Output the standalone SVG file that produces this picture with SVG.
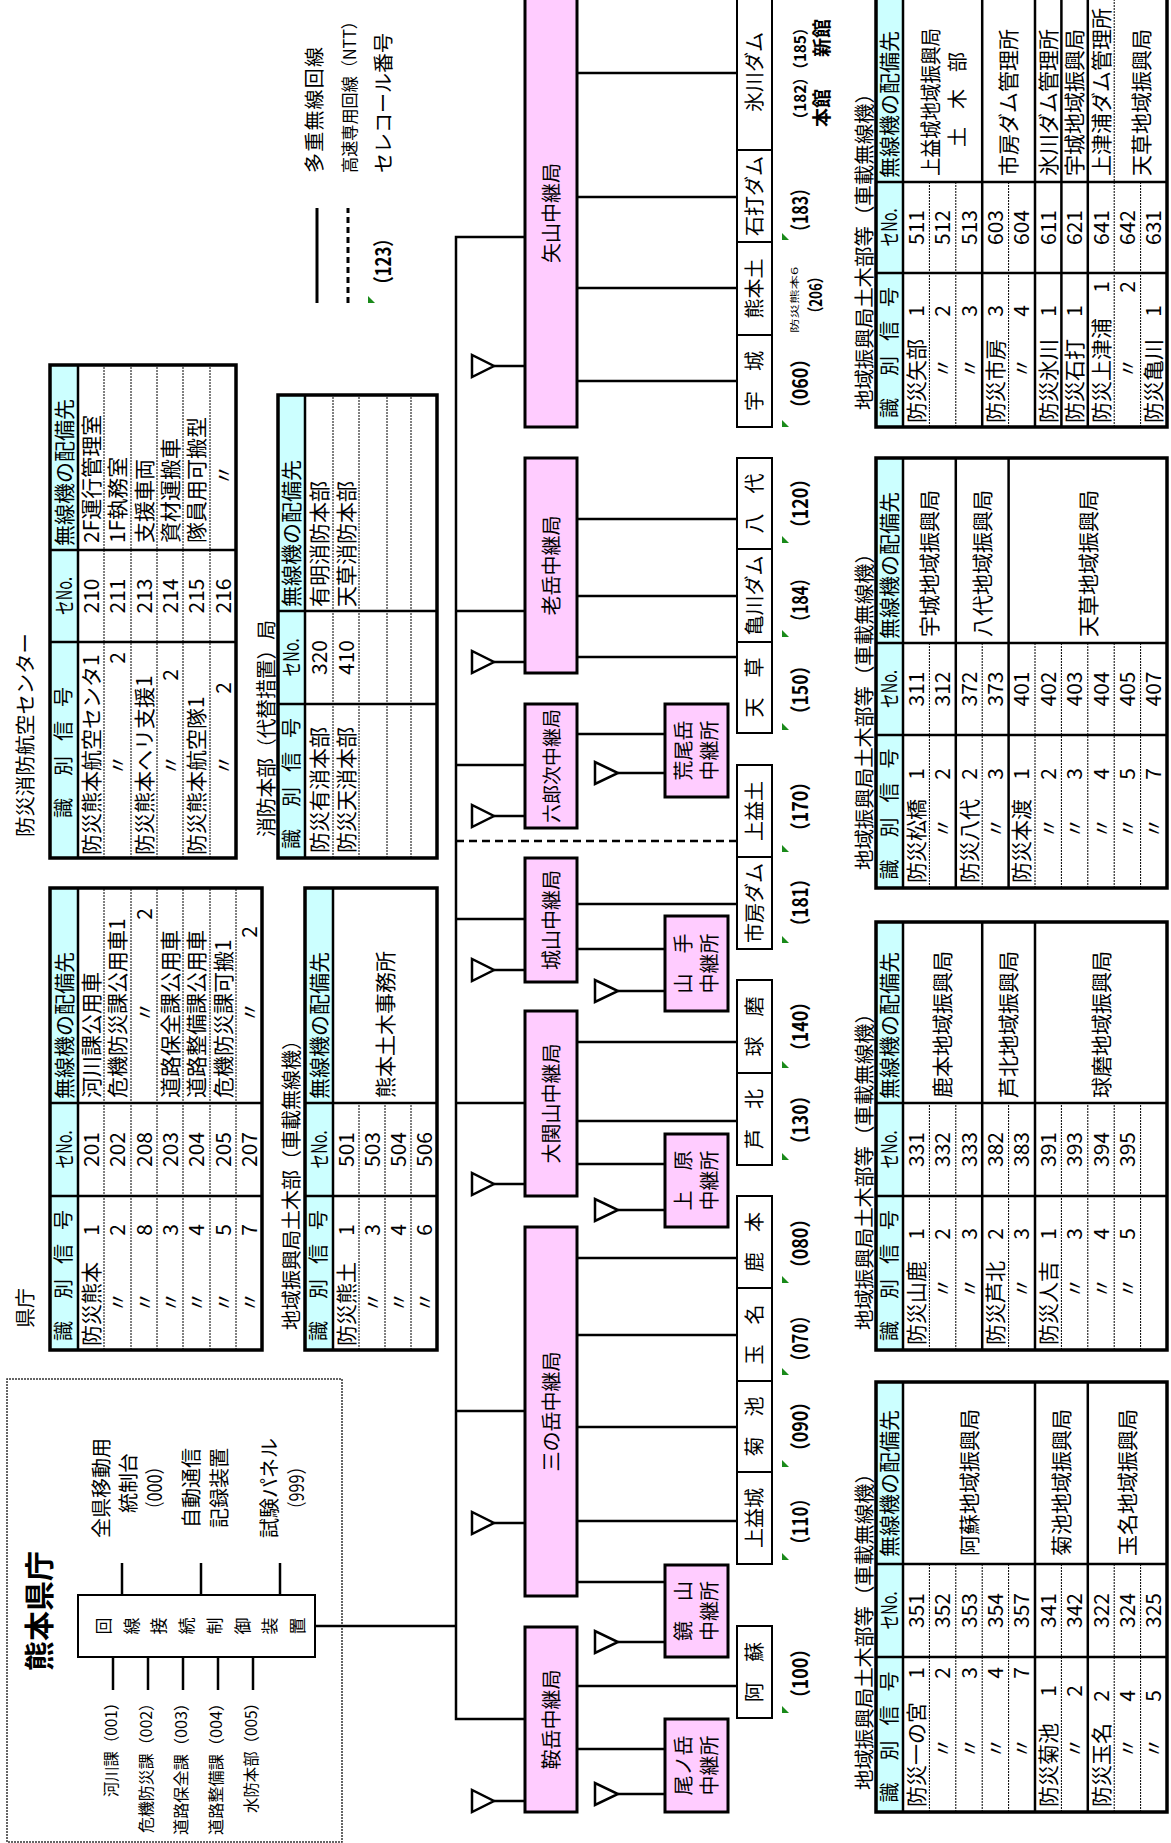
<svg xmlns="http://www.w3.org/2000/svg" width="1171" height="1843" viewBox="0 0 1171 1843">
<style>
.j{font-family:"Noto Sans CJK JP","Noto Sans",sans-serif;fill:#000}
.f21{font-size:21px}.f20{font-size:20px}.f19{font-size:19px}.f18{font-size:18px}.f17{font-size:17px}.f16{font-size:16px}.f15{font-size:15px}.f9{font-size:9px}
.b{font-weight:bold}
.mid{text-anchor:middle}.end{text-anchor:end}
.ln{stroke:#000;stroke-width:2.5;fill:none}
.dsh{stroke:#000;stroke-width:2.5;fill:none;stroke-dasharray:8 5}
.bx{fill:#FFCCFF;stroke:#000;stroke-width:3}
.lb{fill:#fff;stroke:#000;stroke-width:2}
.ant{fill:#fff;stroke:#000;stroke-width:2.5;stroke-linejoin:miter}
.tb{fill:none;stroke:#000;stroke-width:3.5}
.sl{stroke:#000;stroke-width:2.5;fill:none}
.dl{stroke:#000;stroke-width:1;stroke-dasharray:2 1;fill:none}
.hd{fill:#CCFFFF}
.mk{fill:#1a8a1a}
.nm{font-family:"Noto Sans CJK JP","Noto Sans",sans-serif;font-size:21px;font-weight:bold;fill:#000}
</style>
<rect width="1171" height="1843" fill="#fff"/>
<g transform="matrix(0,-1,1,0,0,1843)">

<!-- Head office -->
<g id="kumamoto-pref">
<rect x="1" y="7" width="463" height="335" fill="none" stroke="#333" stroke-width="1.5" stroke-dasharray="2 1"/>
<text class="j b mid" x="232" y="50" style="font-size:30px">熊本県庁</text>
</g>
<g id="n-control">
<rect x="186" y="78" width="62" height="237" fill="#fff" stroke="#000" stroke-width="2"/>
<text class="j f17 mid" x="217 217 217 217 217 217 217 217" y="110 138 165 193 221 249 276 304">回線接続制御装置</text>
</g>
<g id="n-zenken">
<text class="j f20 mid" x="355" y="109">全県移動用</text>
<text class="j f20 mid" x="360" y="136">統制台</text>
<text class="j f20 mid" x="355" y="162" textLength="59" lengthAdjust="spacingAndGlyphs">（000）</text>
</g>
<g id="n-jido">
<text class="j f20 mid" x="355" y="199">自動通信</text>
<text class="j f20 mid" x="355" y="227">記録装置</text>
</g>
<g id="n-shiken">
<text class="j f20 mid" x="355" y="277">試験パネル</text>
<text class="j f20 mid" x="355" y="304" textLength="59" lengthAdjust="spacingAndGlyphs">（999）</text>
</g>
<g id="n-depts">
<text class="j f16 end" x="148" y="117" textLength="102" lengthAdjust="spacingAndGlyphs">河川課（001）</text>
<text class="j f16 end" x="148" y="152" textLength="138" lengthAdjust="spacingAndGlyphs">危機防災課（002）</text>
<text class="j f16 end" x="148" y="187" textLength="140" lengthAdjust="spacingAndGlyphs">道路保全課（003）</text>
<text class="j f16 end" x="148" y="222" textLength="140" lengthAdjust="spacingAndGlyphs">道路整備課（004）</text>
<text class="j f16 end" x="148" y="257" textLength="118" lengthAdjust="spacingAndGlyphs">水防本部（005）</text>
</g>

<!-- Legend -->
<g id="legend">
<path class="ln" d="M1540 317H1635" style="stroke-width:3"/>
<path d="M1540 348H1635" stroke="#000" stroke-width="3" stroke-dasharray="6 4"/>
<polygon class="mk" points="1540,368 1547,368 1540,375"/>
<text class="nm" x="1550" y="390.5" textLength="63" lengthAdjust="spacingAndGlyphs">（123）</text>
<text class="j f20" x="1670" y="322" textLength="126" lengthAdjust="spacing">多重無線回線</text>
<text class="j f17" x="1670" y="356" textLength="160" lengthAdjust="spacingAndGlyphs">高速専用回線（NTT）</text>
<text class="j f20" x="1670" y="391" textLength="140" lengthAdjust="spacingAndGlyphs">セレコール番号</text>
</g>

<!-- Connectors -->
<g id="connectors">
<path class="ln" d="M248 122H280M248 201H280M248 280H280M153 113H186M153 148H186M153 183H186M153 218H186M153 253H186"/>
<path class="ln" d="M217 315V456M124 525V456H1606V525M432 456V525M740 456V525M924 456V525M1078 456V525M1232 456V525"/>
<path class="dsh" d="M1002 456V737"/>
<path class="ln" d="M1477 494V525M1181 494V525M1027 494V525M873 494V525M659 494V525M320 494V525M42 494V525"/>
<path class="ln" d="M1070 618V665M852 618V665M633 618V665M201 618V665M49 618V665"/>
<path class="ln" d="M1770 578V737M1646 578V737M1555 578V737M1462 578V737M1324 578V737M1247 578V737M1186 578V737M939 578V737M801 578V737M722 578V737M585 578V737M508 578V737M416 578V737M322 578V737M157 578V737"/>
<path class="ln" d="M1109 578V665M894 578V665M679 578V665M261 578V665M94 578V665"/>
<g id="antennas">
<polygon class="ant" points="1466,472 1488,472 1477,494"/>
<polygon class="ant" points="1170,472 1192,472 1181,494"/>
<polygon class="ant" points="1016,472 1038,472 1027,494"/>
<polygon class="ant" points="862,472 884,472 873,494"/>
<polygon class="ant" points="648,472 670,472 659,494"/>
<polygon class="ant" points="309,472 331,472 320,494"/>
<polygon class="ant" points="31,472 53,472 42,494"/>
<polygon class="ant" points="1059,595 1081,595 1070,618"/>
<polygon class="ant" points="841,595 863,595 852,618"/>
<polygon class="ant" points="622,595 644,595 633,618"/>
<polygon class="ant" points="190,595 212,595 201,618"/>
<polygon class="ant" points="38,595 60,595 49,618"/>
</g>
</g>

<!-- Relay stations -->
<g id="n-yayama"><rect class="bx" x="1416" y="525" width="432" height="52"/><text class="j f20 mid" x="1630" y="558.7">矢山中継局</text></g>
<g id="n-oidake"><rect class="bx" x="1170" y="525" width="215" height="52"/><text class="j f20 mid" x="1277.5" y="558.7">老岳中継局</text></g>
<g id="n-rokurouji"><rect class="bx" x="1015" y="525" width="124" height="52"/><text class="j f19 mid" x="1077" y="558.5">六郎次中継局</text></g>
<g id="n-shiroyama"><rect class="bx" x="861" y="525" width="124" height="52"/><text class="j f20 mid" x="923" y="558.7">城山中継局</text></g>
<g id="n-ozekiyama"><rect class="bx" x="647" y="525" width="185" height="52"/><text class="j f20 mid" x="739.5" y="558.7">大関山中継局</text></g>
<g id="n-sannotake"><rect class="bx" x="247" y="525" width="369" height="52"/><text class="j f20 mid" x="431.5" y="558.7">三の岳中継局</text></g>
<g id="n-kuradake"><rect class="bx" x="31" y="525" width="185" height="52"/><text class="j f20 mid" x="123.5" y="558.7">鞍岳中継局</text></g>

<g id="n-araodake"><rect class="bx" x="1046" y="665" width="93" height="63"/><text class="j f20 mid" x="1092.5" y="691">荒尾岳</text><text class="j f20 mid" x="1092.5" y="717">中継所</text></g>
<g id="n-yamate"><rect class="bx" x="832" y="665" width="95" height="63"/><text class="j f20 mid" x="879.5" y="691">山　手</text><text class="j f20 mid" x="879.5" y="717">中継所</text></g>
<g id="n-uehara"><rect class="bx" x="616" y="665" width="93" height="63"/><text class="j f20 mid" x="662.5" y="691">上　原</text><text class="j f20 mid" x="662.5" y="717">中継所</text></g>
<g id="n-kagamiyama"><rect class="bx" x="186" y="665" width="92" height="63"/><text class="j f20 mid" x="232" y="691">鏡　山</text><text class="j f20 mid" x="232" y="717">中継所</text></g>
<g id="n-onotake"><rect class="bx" x="31" y="665" width="93" height="63"/><text class="j f20 mid" x="77.5" y="691">尾ノ岳</text><text class="j f20 mid" x="77.5" y="717">中継所</text></g>

<!-- Terminal stations -->
<g id="n-hikawadam"><rect class="lb" x="1693" y="737" width="155" height="35"/><text class="j f20 mid" x="1771" y="762">氷川ダム</text></g>
<g id="n-ishiuchidam"><rect class="lb" x="1601" y="737" width="92" height="35"/><text class="j f20 mid" x="1647" y="762">石打ダム</text></g>
<g id="n-kumamotodo"><rect class="lb" x="1508" y="737" width="93" height="35"/><text class="j f20 mid" x="1554.5" y="762">熊本土</text></g>
<g id="n-uki"><rect class="lb" x="1416" y="737" width="92" height="35"/><text class="j f20 mid" x="1462" y="762">宇　城</text></g>
<g id="n-yatsushiro"><rect class="lb" x="1294" y="737" width="91" height="35"/><text class="j f20 mid" x="1339.5" y="762">八　代</text></g>
<g id="n-kamegawadam"><rect class="lb" x="1201" y="737" width="93" height="35"/><text class="j f20 mid" x="1247.5" y="762">亀川ダム</text></g>
<g id="n-amakusa"><rect class="lb" x="1110" y="737" width="91" height="35"/><text class="j f20 mid" x="1155.5" y="762">天　草</text></g>
<g id="n-kamimashido"><rect class="lb" x="986" y="737" width="92" height="35"/><text class="j f20 mid" x="1032" y="762">上益土</text></g>
<g id="n-ichifusadam"><rect class="lb" x="894" y="737" width="92" height="35"/><text class="j f20 mid" x="940" y="762">市房ダム</text></g>
<g id="n-kuma"><rect class="lb" x="770" y="737" width="93" height="35"/><text class="j f20 mid" x="816.5" y="762">球　磨</text></g>
<g id="n-ashikita"><rect class="lb" x="678" y="737" width="92" height="35"/><text class="j f20 mid" x="724" y="762">芦　北</text></g>
<g id="n-kamoto"><rect class="lb" x="555" y="737" width="92" height="35"/><text class="j f20 mid" x="601" y="762">鹿　本</text></g>
<g id="n-tamana"><rect class="lb" x="462" y="737" width="93" height="35"/><text class="j f20 mid" x="508.5" y="762">玉　名</text></g>
<g id="n-kikuchi"><rect class="lb" x="371" y="737" width="91" height="35"/><text class="j f20 mid" x="416.5" y="762">菊　池</text></g>
<g id="n-kamimashiki"><rect class="lb" x="279" y="737" width="92" height="35"/><text class="j f20 mid" x="325" y="762">上益城</text></g>
<g id="n-aso"><rect class="lb" x="125" y="737" width="92" height="35"/><text class="j f20 mid" x="171" y="762">阿　蘇</text></g>

<!-- Selcall numbers -->
<g id="selcall">
<polygon class="mk" points="1416,782 1423,782 1416,789"/>
<polygon class="mk" points="1603,782 1610,782 1603,789"/>
<polygon class="mk" points="1300,782 1307,782 1300,789"/>
<polygon class="mk" points="1206,782 1213,782 1206,789"/>
<polygon class="mk" points="1113,782 1120,782 1113,789"/>
<polygon class="mk" points="991,782 998,782 991,789"/>
<polygon class="mk" points="900,782 907,782 900,789"/>
<polygon class="mk" points="775,782 782,782 775,789"/>
<polygon class="mk" points="683,782 690,782 683,789"/>
<polygon class="mk" points="560,782 567,782 560,789"/>
<polygon class="mk" points="468,782 475,782 468,789"/>
<polygon class="mk" points="376,782 383,782 376,789"/>
<polygon class="mk" points="283,782 290,782 283,789"/>
<polygon class="mk" points="130,782 137,782 130,789"/>
<text class="nm" x="1426" y="807.8" textLength="67" lengthAdjust="spacingAndGlyphs">（060）</text>
<text class="j f9" x="1510" y="798" textLength="66" lengthAdjust="spacingAndGlyphs">防災熊本6</text>
<text class="nm" x="1523" y="822" textLength="50" lengthAdjust="spacingAndGlyphs" style="font-size:17px">（206）</text>
<text class="nm" x="1603" y="807.8" textLength="60" lengthAdjust="spacingAndGlyphs">（183）</text>
<text class="nm" x="1716" y="805.5" textLength="107" lengthAdjust="spacingAndGlyphs" style="font-size:16px">（182）（185）</text>
<text class="j f19 b" x="1716" y="829">本館</text>
<text class="j f19 b" x="1786" y="829">新館</text>
<text class="nm" x="1306" y="807.8" textLength="67" lengthAdjust="spacingAndGlyphs">（120）</text>
<text class="nm" x="1213" y="807.8" textLength="60" lengthAdjust="spacingAndGlyphs">（184）</text>
<text class="nm" x="1120" y="807.8" textLength="66" lengthAdjust="spacingAndGlyphs">（150）</text>
<text class="nm" x="1003" y="807.8" textLength="67" lengthAdjust="spacingAndGlyphs">（170）</text>
<text class="nm" x="908" y="807.8" textLength="65" lengthAdjust="spacingAndGlyphs">（181）</text>
<text class="nm" x="783" y="807.8" textLength="67" lengthAdjust="spacingAndGlyphs">（140）</text>
<text class="nm" x="690" y="807.8" textLength="66" lengthAdjust="spacingAndGlyphs">（130）</text>
<text class="nm" x="566" y="807.8" textLength="67" lengthAdjust="spacingAndGlyphs">（080）</text>
<text class="nm" x="473" y="807.8" textLength="63" lengthAdjust="spacingAndGlyphs">（070）</text>
<text class="nm" x="383" y="807.8" textLength="67" lengthAdjust="spacingAndGlyphs">（090）</text>
<text class="nm" x="290" y="807.8" textLength="63" lengthAdjust="spacingAndGlyphs">（110）</text>
<text class="nm" x="136" y="807.8" textLength="67" lengthAdjust="spacingAndGlyphs">（100）</text>
</g>

<!-- Table: 県庁 -->
<g id="tbl-kencho">
<text class="j f20" x="515" y="33">県庁</text>
<rect class="hd" x="493" y="50" width="462" height="28"/>
<path class="dl" d="M493 104H955M493 131H955M493 157H955M493 183H955M493 210H955M493 236H955"/>
<path class="sl" d="M493 78H955M647 50V262M740 50V262"/>
<rect class="tb" x="493" y="50" width="462" height="212"/>
<g class="j f21">
<text class="f20" x="502 544 579 613" y="71">識別信号</text>
<text class="mid" x="693.5" y="71.5" textLength="38" lengthAdjust="spacingAndGlyphs">セNo.</text>
<text x="744" y="71.5">無線機の配備先</text>
<text x="497" y="98.5">防災熊本</text><text class="end" x="619" y="98.5">1</text><text class="mid" x="693.5" y="98.5">201</text><text x="745" y="98.5">河川課公用車</text>
<text class="mid" x="541" y="125">〃</text><text class="end" x="619" y="125">2</text><text class="mid" x="693.5" y="125">202</text><text x="745" y="125">危機防災課公用車1</text>
<text class="mid" x="541" y="151.5">〃</text><text class="end" x="619" y="151.5">8</text><text class="mid" x="693.5" y="151.5">208</text><text class="mid" x="831" y="151.5">〃</text><text class="end" x="935" y="151.5">2</text>
<text class="mid" x="541" y="177.5">〃</text><text class="end" x="619" y="177.5">3</text><text class="mid" x="693.5" y="177.5">203</text><text x="745" y="177.5">道路保全課公用車</text>
<text class="mid" x="541" y="204">〃</text><text class="end" x="619" y="204">4</text><text class="mid" x="693.5" y="204">204</text><text x="745" y="204">道路整備課公用車</text>
<text class="mid" x="541" y="230.5">〃</text><text class="end" x="619" y="230.5">5</text><text class="mid" x="693.5" y="230.5">205</text><text x="745" y="230.5">危機防災課可搬1</text>
<text class="mid" x="541" y="256.5">〃</text><text class="end" x="619" y="256.5">7</text><text class="mid" x="693.5" y="256.5">207</text><text class="mid" x="831" y="256.5">〃</text><text class="end" x="917" y="256.5">2</text>
</g>
</g>

<!-- Table: 熊本土木 -->
<g id="tbl-kumado">
<text class="j f20" x="513" y="299">地域振興局土木部（車載無線機）</text>
<rect class="hd" x="493" y="305" width="462" height="28"/>
<path class="dl" d="M493 359H740M493 385H740M493 411H740"/>
<path class="sl" d="M493 333H955M647 305V437M740 305V437"/>
<rect class="tb" x="493" y="305" width="462" height="132"/>
<g class="j f21">
<text class="f20" x="502 544 579 613" y="326">識別信号</text>
<text class="mid" x="693.5" y="326.5" textLength="38" lengthAdjust="spacingAndGlyphs">セNo.</text>
<text x="744" y="326.5">無線機の配備先</text>
<text x="497" y="353.5">防災熊土</text><text class="end" x="619" y="353.5">1</text><text class="mid" x="693.5" y="353.5">501</text>
<text class="mid" x="541" y="379.5">〃</text><text class="end" x="619" y="379.5">3</text><text class="mid" x="693.5" y="379.5">503</text>
<text class="mid" x="541" y="405.5">〃</text><text class="end" x="619" y="405.5">4</text><text class="mid" x="693.5" y="405.5">504</text>
<text class="mid" x="541" y="431.5">〃</text><text class="end" x="619" y="431.5">6</text><text class="mid" x="693.5" y="431.5">506</text>
<text x="745" y="392.5">熊本土木事務所</text>
</g>
</g>

<!-- Table: 防災消防航空センター -->
<g id="tbl-koku">
<text class="j f20" x="1006" y="33" textLength="204" lengthAdjust="spacingAndGlyphs">防災消防航空センター</text>
<rect class="hd" x="985" y="50" width="493" height="28"/>
<path class="dl" d="M985 104H1478M985 131H1478M985 157H1478M985 183H1478M985 210H1478"/>
<path class="sl" d="M985 78H1478M1201 50V236M1293 50V236"/>
<rect class="tb" x="985" y="50" width="493" height="186"/>
<g class="j f21">
<text class="f20" x="1025 1067 1102 1136" y="71">識別信号</text>
<text class="mid" x="1247" y="71.5" textLength="38" lengthAdjust="spacingAndGlyphs">セNo.</text>
<text x="1297" y="71.5">無線機の配備先</text>
<text x="988" y="98.5">防災熊本航空センタ1</text><text class="mid" x="1247" y="98.5">210</text><text x="1300" y="98.5">2F運行管理室</text>
<text class="mid" x="1078" y="125">〃</text><text class="end" x="1191" y="125">2</text><text class="mid" x="1247" y="125">211</text><text x="1300" y="125">1F執務室</text>
<text x="988" y="151.5">防災熊本ヘリ支援1</text><text class="mid" x="1247" y="151.5">213</text><text x="1300" y="151.5">支援車両</text>
<text class="mid" x="1078" y="177.5">〃</text><text class="end" x="1174" y="177.5">2</text><text class="mid" x="1247" y="177.5">214</text><text x="1300" y="177.5">資材運搬車</text>
<text x="988" y="204">防災熊本航空隊1</text><text class="mid" x="1247" y="204">215</text><text x="1300" y="204">隊員用可搬型</text>
<text class="mid" x="1078" y="230.5">〃</text><text class="end" x="1161" y="230.5">2</text><text class="mid" x="1247" y="230.5">216</text><text class="mid" x="1368" y="230.5">〃</text>
</g>
</g>

<!-- Table: 消防本部 -->
<g id="tbl-shobo">
<text class="j f20" x="1006" y="274" textLength="217" lengthAdjust="spacingAndGlyphs">消防本部（代替措置）局</text>
<rect class="hd" x="985" y="278" width="463" height="27"/>
<path class="dl" d="M985 333H1448M985 359H1448M985 387H1448M985 411H1448"/>
<path class="sl" d="M985 305H1448M1139 278V437M1232 278V437"/>
<rect class="tb" x="985" y="278" width="463" height="159"/>
<g class="j f21">
<text class="f20" x="994 1036 1071 1105" y="298.5">識別信号</text>
<text class="mid" x="1185.5" y="299" textLength="38" lengthAdjust="spacingAndGlyphs">セNo.</text>
<text x="1236" y="299">無線機の配備先</text>
<text x="990" y="326.5">防災有消本部</text><text class="mid" x="1185.5" y="326.5">320</text><text x="1236" y="326.5">有明消防本部</text>
<text x="990" y="353.5">防災天消本部</text><text class="mid" x="1185.5" y="353.5">410</text><text x="1236" y="353.5">天草消防本部</text>
</g>
</g>

<!-- Table A -->
<g id="tbl-aso">
<text class="j f20" x="53" y="872" textLength="327" lengthAdjust="spacingAndGlyphs">地域振興局土木部等（車載無線機）</text>
<rect class="hd" x="31" y="876" width="430" height="27"/>
<path class="dl" d="M31 929.4H279M31 955.8H279M31 982.2H279M31 1008.6H279M31 1061.4H279M31 1114.2H279M31 1140.6H279"/>
<path class="sl" d="M31 903H461M186 876V1167M279 876V1167M31 1035H461M31 1087.8H461"/>
<rect class="tb" x="31" y="876" width="430" height="291"/>
<g class="j f21">
<text class="f20" x="40.5 82.5 117.5 151.5" y="896.5">識別信号</text>
<text class="mid" x="232.5" y="897" textLength="38" lengthAdjust="spacingAndGlyphs">セNo.</text>
<text x="286" y="897">無線機の配備先</text>
<text x="36" y="923.7">防災一の宮</text><text class="end" x="176" y="923.7">1</text><text class="mid" x="232.5" y="923.7">351</text>
<text class="mid" x="95" y="950.1">〃</text><text class="end" x="176" y="950.1">2</text><text class="mid" x="232.5" y="950.1">352</text>
<text class="mid" x="95" y="976.5">〃</text><text class="end" x="176" y="976.5">3</text><text class="mid" x="232.5" y="976.5">353</text>
<text class="mid" x="95" y="1002.9">〃</text><text class="end" x="176" y="1002.9">4</text><text class="mid" x="232.5" y="1002.9">354</text>
<text class="mid" x="95" y="1029.3">〃</text><text class="end" x="176" y="1029.3">7</text><text class="mid" x="232.5" y="1029.3">357</text>
<text x="36" y="1055.7">防災菊池</text><text class="end" x="158" y="1055.7">1</text><text class="mid" x="232.5" y="1055.7">341</text>
<text class="mid" x="95" y="1082.1">〃</text><text class="end" x="158" y="1082.1">2</text><text class="mid" x="232.5" y="1082.1">342</text>
<text x="36" y="1108.5">防災玉名</text><text class="end" x="153" y="1108.5">2</text><text class="mid" x="232.5" y="1108.5">322</text>
<text class="mid" x="95" y="1134.9">〃</text><text class="end" x="153" y="1134.9">4</text><text class="mid" x="232.5" y="1134.9">324</text>
<text class="mid" x="95" y="1161.3">〃</text><text class="end" x="153" y="1161.3">5</text><text class="mid" x="232.5" y="1161.3">325</text>
<text x="287" y="976.5">阿蘇地域振興局</text>
<text x="287" y="1068.9">菊池地域振興局</text>
<text x="287" y="1134.9">玉名地域振興局</text>
</g>
</g>

<!-- Table B -->
<g id="tbl-kamoto">
<text class="j f20" x="513" y="872" textLength="327" lengthAdjust="spacingAndGlyphs">地域振興局土木部等（車載無線機）</text>
<rect class="hd" x="493" y="876" width="428" height="27"/>
<path class="dl" d="M493 929.4H740M493 955.8H740M493 1008.6H740M493 1061.4H740M493 1087.8H740M493 1114.2H740M493 1140.6H740"/>
<path class="sl" d="M493 903H921M647 876V1167M740 876V1167M493 982.2H921M493 1035H921"/>
<rect class="tb" x="493" y="876" width="428" height="291"/>
<g class="j f21">
<text class="f20" x="502 544 579 613" y="896.5">識別信号</text>
<text class="mid" x="693.5" y="897" textLength="38" lengthAdjust="spacingAndGlyphs">セNo.</text>
<text x="744" y="897">無線機の配備先</text>
<text x="498" y="923.7">防災山鹿</text><text class="end" x="615" y="923.7">1</text><text class="mid" x="693.5" y="923.7">331</text>
<text class="mid" x="555" y="950.1">〃</text><text class="end" x="615" y="950.1">2</text><text class="mid" x="693.5" y="950.1">332</text>
<text class="mid" x="555" y="976.5">〃</text><text class="end" x="615" y="976.5">3</text><text class="mid" x="693.5" y="976.5">333</text>
<text x="498" y="1002.9">防災芦北</text><text class="end" x="615" y="1002.9">2</text><text class="mid" x="693.5" y="1002.9">382</text>
<text class="mid" x="555" y="1029.3">〃</text><text class="end" x="615" y="1029.3">3</text><text class="mid" x="693.5" y="1029.3">383</text>
<text x="498" y="1055.7">防災人吉</text><text class="end" x="615" y="1055.7">1</text><text class="mid" x="693.5" y="1055.7">391</text>
<text class="mid" x="555" y="1082.1">〃</text><text class="end" x="615" y="1082.1">3</text><text class="mid" x="693.5" y="1082.1">393</text>
<text class="mid" x="555" y="1108.5">〃</text><text class="end" x="615" y="1108.5">4</text><text class="mid" x="693.5" y="1108.5">394</text>
<text class="mid" x="555" y="1134.9">〃</text><text class="end" x="615" y="1134.9">5</text><text class="mid" x="693.5" y="1134.9">395</text>
<text x="745" y="950.1">鹿本地域振興局</text>
<text x="745" y="1016.1">芦北地域振興局</text>
<text x="745" y="1108.5">球磨地域振興局</text>
</g>
</g>

<!-- Table C -->
<g id="tbl-uki">
<text class="j f20" x="973" y="872" textLength="327" lengthAdjust="spacingAndGlyphs">地域振興局土木部等（車載無線機）</text>
<rect class="hd" x="955" y="876" width="430" height="27"/>
<path class="dl" d="M955 929.4H1200M955 982.2H1200M955 1035H1200M955 1061.4H1200M955 1087.8H1200M955 1114.2H1200M955 1140.6H1200"/>
<path class="sl" d="M955 903H1385M1108 876V1167M1200 876V1167M955 955.8H1385M955 1008.6H1385"/>
<rect class="tb" x="955" y="876" width="430" height="291"/>
<g class="j f21">
<text class="f20" x="963.5 1005.5 1040.5 1074.5" y="896.5">識別信号</text>
<text class="mid" x="1154" y="897" textLength="38" lengthAdjust="spacingAndGlyphs">セNo.</text>
<text x="1204" y="897">無線機の配備先</text>
<text x="960" y="923.7">防災松橋</text><text class="end" x="1075" y="923.7">1</text><text class="mid" x="1154" y="923.7">311</text>
<text class="mid" x="1015" y="950.1">〃</text><text class="end" x="1075" y="950.1">2</text><text class="mid" x="1154" y="950.1">312</text>
<text x="960" y="976.5">防災八代</text><text class="end" x="1075" y="976.5">2</text><text class="mid" x="1154" y="976.5">372</text>
<text class="mid" x="1015" y="1002.9">〃</text><text class="end" x="1075" y="1002.9">3</text><text class="mid" x="1154" y="1002.9">373</text>
<text x="960" y="1029.3">防災本渡</text><text class="end" x="1075" y="1029.3">1</text><text class="mid" x="1154" y="1029.3">401</text>
<text class="mid" x="1015" y="1055.7">〃</text><text class="end" x="1075" y="1055.7">2</text><text class="mid" x="1154" y="1055.7">402</text>
<text class="mid" x="1015" y="1082.1">〃</text><text class="end" x="1075" y="1082.1">3</text><text class="mid" x="1154" y="1082.1">403</text>
<text class="mid" x="1015" y="1108.5">〃</text><text class="end" x="1075" y="1108.5">4</text><text class="mid" x="1154" y="1108.5">404</text>
<text class="mid" x="1015" y="1134.9">〃</text><text class="end" x="1075" y="1134.9">5</text><text class="mid" x="1154" y="1134.9">405</text>
<text class="mid" x="1015" y="1161.3">〃</text><text class="end" x="1075" y="1161.3">7</text><text class="mid" x="1154" y="1161.3">407</text>
<text x="1206" y="936.9">宇城地域振興局</text>
<text x="1206" y="989.7">八代地域振興局</text>
<text x="1206" y="1095.5">天草地域振興局</text>
</g>
</g>

<!-- Table D -->
<g id="tbl-yabe">
<text class="j f20" x="1433" y="872" textLength="327" lengthAdjust="spacingAndGlyphs">地域振興局土木部等（車載無線機）</text>
<rect class="hd" x="1416" y="876" width="432" height="27"/>
<path class="dl" d="M1416 929.4H1661M1416 955.8H1661M1416 1008.6H1661M1416 1140.6H1661M1416 1114.2H1848"/>
<path class="sl" d="M1416 903H1848M1570 876V1167M1661 876V1167M1416 982.2H1848M1416 1035H1848M1416 1061.4H1848M1416 1087.8H1848"/>
<rect class="tb" x="1416" y="876" width="435" height="291"/>
<g class="j f21">
<text class="f20" x="1425 1467 1502 1536" y="896.5">識別信号</text>
<text class="mid" x="1615.5" y="897" textLength="38" lengthAdjust="spacingAndGlyphs">セNo.</text>
<text x="1665" y="897">無線機の配備先</text>
<text x="1420" y="923.7">防災矢部</text><text class="end" x="1538" y="923.7">1</text><text class="mid" x="1615.5" y="923.7">511</text>
<text class="mid" x="1475" y="950.1">〃</text><text class="end" x="1538" y="950.1">2</text><text class="mid" x="1615.5" y="950.1">512</text>
<text class="mid" x="1475" y="976.5">〃</text><text class="end" x="1538" y="976.5">3</text><text class="mid" x="1615.5" y="976.5">513</text>
<text x="1420" y="1002.9">防災市房</text><text class="end" x="1538" y="1002.9">3</text><text class="mid" x="1615.5" y="1002.9">603</text>
<text class="mid" x="1475" y="1029.3">〃</text><text class="end" x="1538" y="1029.3">4</text><text class="mid" x="1615.5" y="1029.3">604</text>
<text x="1420" y="1055.7">防災氷川</text><text class="end" x="1538" y="1055.7">1</text><text class="mid" x="1615.5" y="1055.7">611</text>
<text x="1420" y="1082.1">防災石打</text><text class="end" x="1538" y="1082.1">1</text><text class="mid" x="1615.5" y="1082.1">621</text>
<text x="1420" y="1108.5">防災上津浦</text><text class="end" x="1562" y="1108.5">1</text><text class="mid" x="1615.5" y="1108.5">641</text>
<text class="mid" x="1475" y="1134.9">〃</text><text class="end" x="1562" y="1134.9">2</text><text class="mid" x="1615.5" y="1134.9">642</text>
<text x="1420" y="1161.3">防災亀川</text><text class="end" x="1538" y="1161.3">1</text><text class="mid" x="1615.5" y="1161.3">631</text>
<text x="1667" y="937.5" textLength="148" lengthAdjust="spacingAndGlyphs">上益城地域振興局</text>
<text class="f20" x="1696 1734 1771" y="964.5">土木部</text>
<text x="1667" y="1016.1">市房ダム管理所</text>
<text x="1667" y="1055.7">氷川ダム管理所</text>
<text x="1667" y="1082.1">宇城地域振興局</text>
<text x="1667" y="1108.5">上津浦ダム管理所</text>
<text x="1667" y="1148.5">天草地域振興局</text>
</g>
</g>

</g>
</svg>
